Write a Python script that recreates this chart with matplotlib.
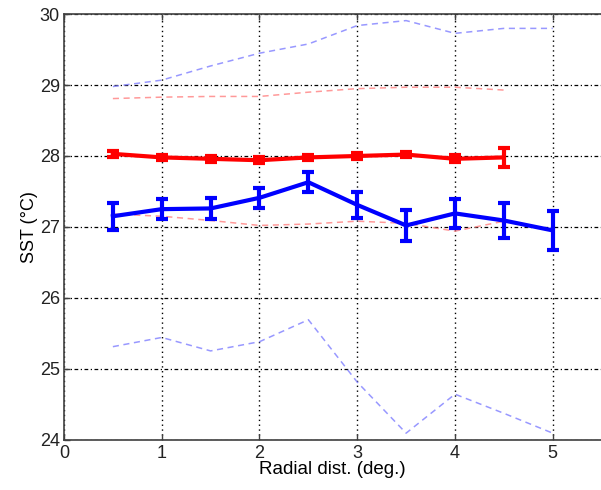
import matplotlib.pyplot as plt

# radial distance bins (deg.)
dist = [0.5, 1.0, 1.5, 2.0, 2.5, 3.0, 3.5, 4.0, 4.5, 5.0]

# blue series: mean SST, error and spread envelope
blue_mean = [27.15, 27.25, 27.26, 27.41, 27.63, 27.31, 27.02, 27.19, 27.09, 26.95]
blue_err = [0.19, 0.14, 0.15, 0.145, 0.14, 0.18, 0.22, 0.21, 0.24, 0.28]
blue_hi = [28.98, 29.07, 29.27, 29.45, 29.58, 29.84, 29.91, 29.73, 29.80, 29.80]
blue_lo = [25.31, 25.44, 25.25, 25.38, 25.69, 24.81, 24.09, 24.64, 24.37, 24.09]

# red series (stops at 4.5 deg.)
red_dist = dist[:9]
red_mean = [28.03, 27.98, 27.96, 27.94, 27.98, 28.00, 28.02, 27.96, 27.98]
red_err = [0.04, 0.04, 0.04, 0.04, 0.04, 0.04, 0.04, 0.05, 0.13]
red_hi = [28.81, 28.83, 28.84, 28.84, 28.90, 28.95, 28.97, 28.97, 28.93]
red_lo = [27.18, 27.15, 27.09, 27.02, 27.04, 27.08, 27.05, 26.94, 27.08]

plt.rcParams['font.family'] = ['Liberation Sans', 'DejaVu Sans']

fig = plt.figure(figsize=(6.01, 4.90), dpi=100)
ax = fig.add_axes([0.1065, 0.103, 0.8945, 0.868])

ax.plot(dist, blue_hi, '--', color='#7f7fff', lw=1.1, alpha=0.8, dashes=(4, 3))
ax.plot(dist, blue_lo, '--', color='#7f7fff', lw=1.1, alpha=0.8, dashes=(4, 3))
ax.plot(red_dist, red_hi, '--', color='#ff8080', lw=1.1, alpha=0.8, dashes=(4, 3))
ax.plot(red_dist, red_lo, '--', color='#ff8080', lw=1.1, alpha=0.8, dashes=(4, 3))

ax.errorbar(red_dist, red_mean, yerr=red_err, color='#ff0000', lw=3,
            elinewidth=3, capsize=4, capthick=3, zorder=4)
ax.errorbar(dist, blue_mean, yerr=blue_err, color='#0000ff', lw=3,
            elinewidth=3, capsize=4, capthick=3, zorder=5)

ax.set_xlim(0, 5.5)
ax.set_ylim(24, 30)
ax.set_xticks([0, 1, 2, 3, 4, 5])
ax.set_yticks([24, 25, 26, 27, 28, 29, 30])

ax.xaxis.grid(True, color='black', linestyle=(0, (1, 2.5)), lw=1)
ax.yaxis.grid(True, color='black', linestyle=(0, (3, 2, 1, 2)), lw=0.9)
ax.set_axisbelow(True)

for side in ['left', 'bottom', 'top']:
    ax.spines[side].set_color('#404040')
    ax.spines[side].set_linewidth(1.2)
ax.spines['right'].set_visible(False)

ax.tick_params(direction='in', top=True, length=4, width=1, color='#404040',
               labelsize=13, labelcolor='#222222')
ax.tick_params(axis='x', pad=4)
ax.tick_params(axis='y', pad=3)

ax.set_xlabel('Radial dist. (deg.)', fontsize=13.5, labelpad=-1)
ax.set_ylabel('SST (°C)', fontsize=13, labelpad=1)

fig.savefig('out.png', dpi=100)
